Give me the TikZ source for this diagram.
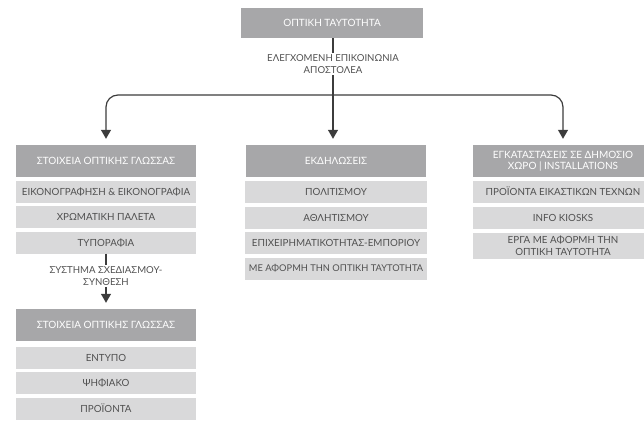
\documentclass[tikz,border=0pt]{standalone}
\usepackage{fontspec}
\setmainfont{Lato}
\usetikzlibrary{arrows.meta}
\definecolor{headgray}{HTML}{A7A7A9}
\definecolor{itemgray}{HTML}{D9D9DA}
\definecolor{textgray}{HTML}{505050}
\definecolor{linegray}{HTML}{3C3C3C}
\begin{document}
\begin{tikzpicture}[x=1pt,y=-1pt,
	head/.style={fill=headgray, text=white, minimum width=180pt, minimum height=32pt, inner sep=0pt, align=center, font=\fontsize{10}{11.5}\selectfont},
	item/.style={fill=itemgray, text=textgray, minimum width=180pt, minimum height=22pt, inner sep=0pt, align=center, font=\fontsize{9.8}{11.5}\selectfont},
	note/.style={text=textgray, inner sep=2pt, align=center, font=\fontsize{9.6}{11.5}\selectfont},
	link/.style={draw=linegray, line width=1.2pt},
	arr/.style={link, -{Triangle[width=10pt,length=9pt]}, shorten >=6pt}]
	\clip (0,0) rectangle (644,420);
	%Identity
	\node[head, minimum width=182pt, minimum height=30pt] (ident) at (332,23) {ΟΠΤΙΚΗ ΤΑΥΤΟΤΗΤΑ};
	\node[note] (sender) at (333,64) {ΕΛΕΓΧΟΜΕΝΗ ΕΠΙΚΟΙΝΩΝΙΑ\\ΑΠΟΣΤΟΛΕΑ};
	\draw[link] (ident.south -| sender.north) -- (sender.north);
	\coordinate (split) at (333,95);
	%Headers
	\node[head] (lang) at (106,161) {ΣΤΟΙΧΕΙΑ ΟΠΤΙΚΗΣ ΓΛΩΣΣΑΣ};
	\node[head] (events) at (336,161) {ΕΚΔΗΛΩΣΕΙΣ};
	\node[head] (install) at (563,161) {ΕΓΚΑΤΑΣΤΑΣΕΙΣ ΣΕ ΔΗΜΟΣΙΟ\\ΧΩΡΟ | INSTALLATIONS};
	%Branches
	\draw[link] (sender.south) -- (split);
	\draw[arr, rounded corners=12pt] (split) -| (lang.north);
	\draw[arr, rounded corners=12pt] (split) -| (install.north);
	\draw[arr] (split) -- (split |- events.north);
	%Visual language
	\node[item] (lang-1) at (106,191.5) {ΕΙΚΟΝΟΓΡΑΦΗΣΗ \& ΕΙΚΟΝΟΓΡΑΦΙΑ};
	\node[item] (lang-2) at (106,217) {ΧΡΩΜΑΤΙΚΗ ΠΑΛΕΤΑ};
	\node[item] (lang-3) at (106,242.5) {ΤΥΠΟΡΑΦΙΑ};
	\node[note] (system) at (106,276) {ΣΥΣΤΗΜΑ ΣΧΕΔΙΑΣΜΟΥ-\\ΣΥΝΘΕΣΗ};
	\draw[link] (lang-3.south) -- (system.north);
	\node[head] (media) at (106,325) {ΣΤΟΙΧΕΙΑ ΟΠΤΙΚΗΣ ΓΛΩΣΣΑΣ};
	\draw[arr] (system.south) -- (media.north);
	\node[item] (media-1) at (106,357.5) {ΕΝΤΥΠΟ};
	\node[item] (media-2) at (106,383) {ΨΗΦΙΑΚΟ};
	\node[item] (media-3) at (106,408.5) {ΠΡΟΪΟΝΤΑ};
	%Events
	\node[item, minimum width=182pt] (events-1) at (336,192) {ΠΟΛΙΤΙΣΜΟΥ};
	\node[item, minimum width=182pt] (events-2) at (336,217.5) {ΑΘΛΗΤΙΣΜΟΥ};
	\node[item, minimum width=182pt] (events-3) at (336,243) {ΕΠΙΧΕΙΡΗΜΑΤΙΚΟΤΗΤΑΣ-ΕΜΠΟΡΙΟΥ};
	\node[item, minimum width=182pt, font=\fontsize{9.3}{11.5}\selectfont] (events-4) at (336,268.5) {ΜΕ ΑΦΟΡΜΗ ΤΗΝ ΟΠΤΙΚΗ ΤΑΥΤΟΤΗΤΑ};
	%Installations
	\node[item] (install-1) at (563,191.5) {ΠΡΟΪΟΝΤΑ ΕΙΚΑΣΤΙΚΩΝ ΤΕΧΝΩΝ};
	\node[item] (install-2) at (563,218) {INFO KIOSKS};
	\node[item, minimum height=26pt] (install-3) at (563,245.5) {ΕΡΓΑ ΜΕ ΑΦΟΡΜΗ ΤΗΝ\\ΟΠΤΙΚΗ ΤΑΥΤΟΤΗΤΑ};
\end{tikzpicture}
\end{document}
